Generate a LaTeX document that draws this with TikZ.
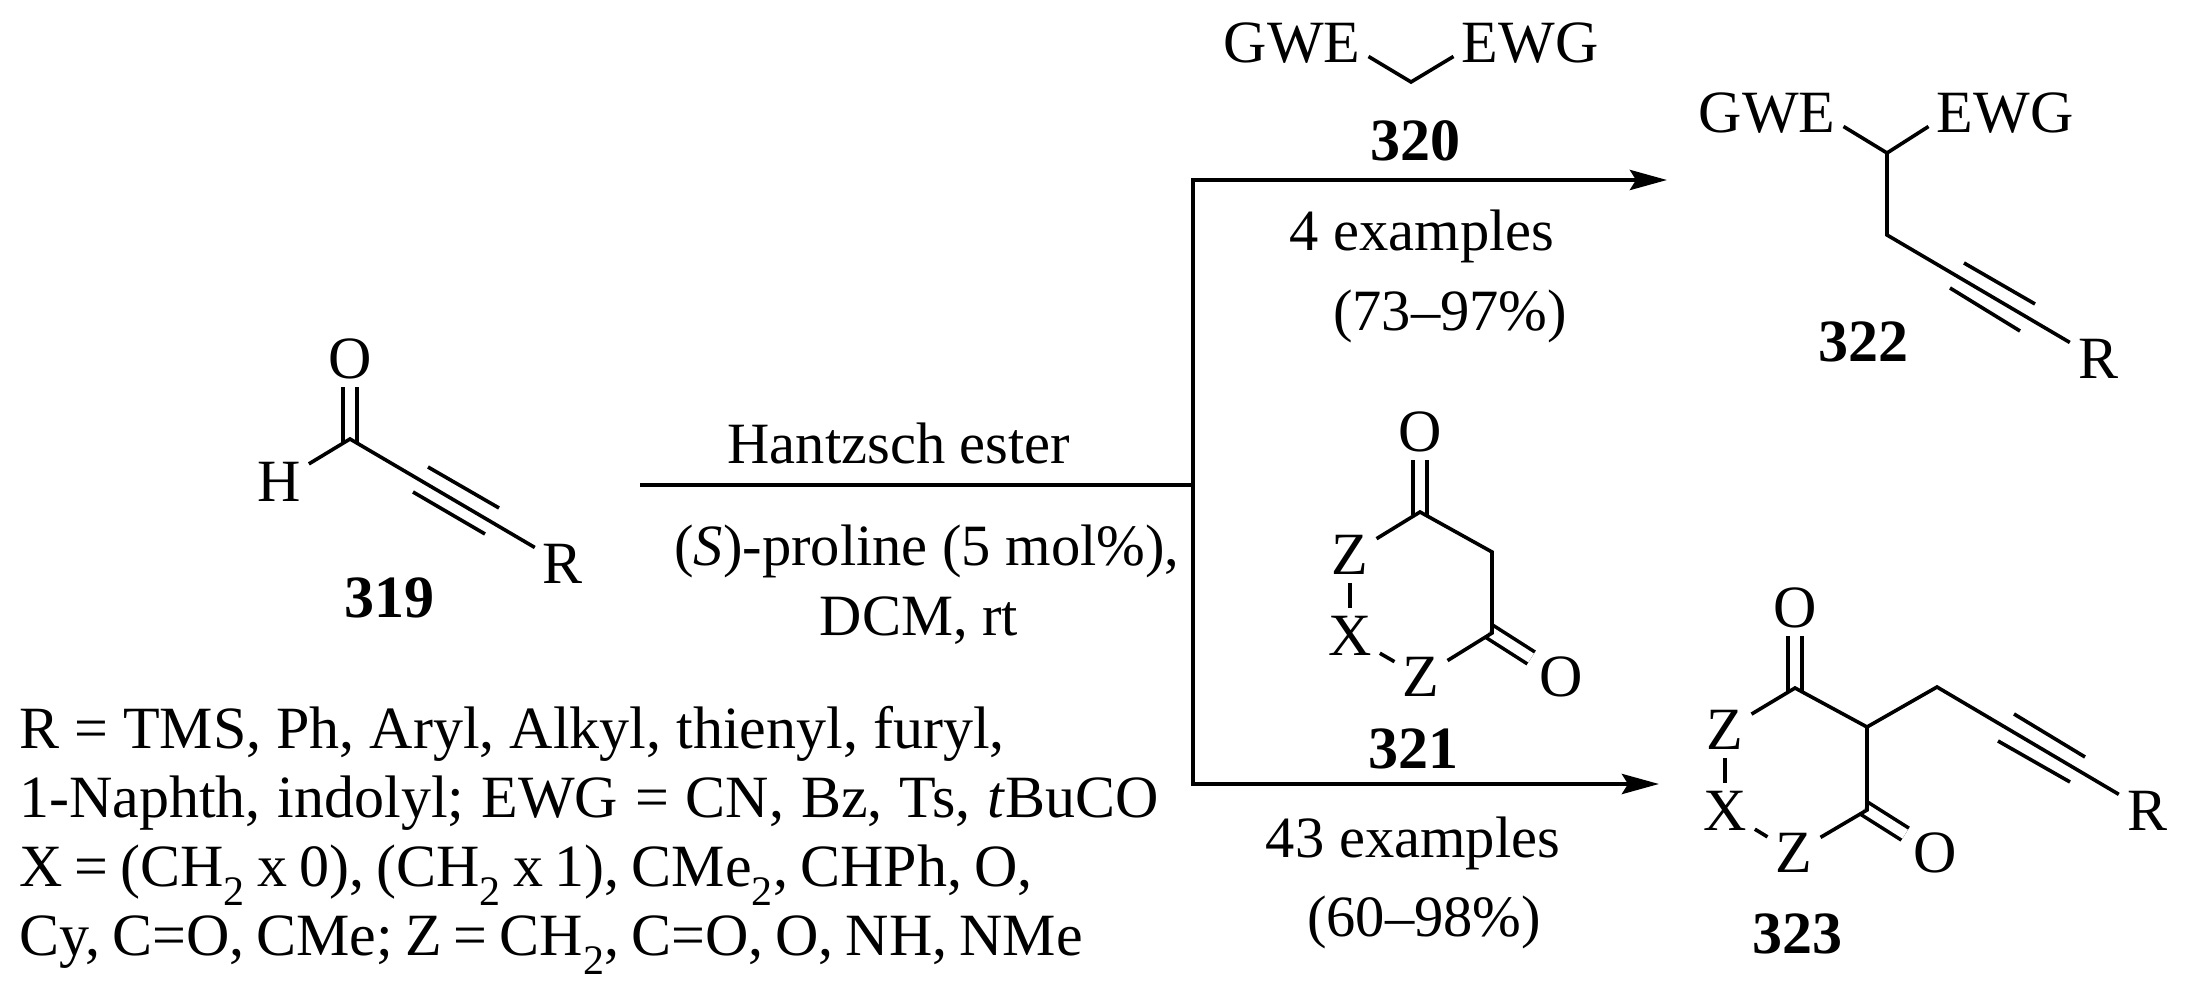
\documentclass[tikz,border=0pt]{standalone}
\usepackage{fontspec}
\setmainfont{Liberation Serif}
\usetikzlibrary{positioning,arrows.meta}
\newcommand{\chemsize}{\fontsize{60}{69}\selectfont}
\newcommand{\condsize}{\fontsize{58.5}{69}\selectfont}
\tikzset{
    atom/.style={inner sep=8pt, anchor=center, font=\chemsize},
    cmpd/.style={inner sep=0pt, anchor=base, font=\chemsize\bfseries},
    cond/.style={inner sep=0pt, anchor=base, font=\condsize},
    legend/.style={inner sep=0pt, anchor=base west, font=\chemsize},
    spacing/.style={execute at begin node={\spaceskip=#1\relax}},
    bond/.style={line width=3.6pt, line join=miter},
    dbond/.style={bond, double, double distance between line centers=14pt, shorten <=-3pt},
    connection/.style={line width=4.4pt, -{Stealth[length=37pt,width=20pt,inset=6pt]}}
}

\begin{document}
\begin{tikzpicture}[x=1pt, y=-1pt]
\useasboundingbox (0,0) rectangle (2188,992);

% Aldehyde 319
\coordinate (ald) at (350,439);
\node (aldO) [above=80pt of ald, atom] {O};
\node (aldH) [below left=43pt and 71pt of ald, atom] {H};
\node (aldR) [below right=125pt and 213pt of ald, atom] {R};
\coordinate (aldUa) at (428,467);
\coordinate (aldUb) at (499,508);
\coordinate (aldLa) at (413,492);
\coordinate (aldLb) at (485,534);
\node (n319) [cmpd] at (389,617) {319};
\draw [dbond] (ald) -- (aldO);
\draw [bond] (aldH) -- (ald) -- (aldR);
\draw [bond] (aldUa) -- (aldUb);
\draw [bond] (aldLa) -- (aldLb);

% Conditions on the main line
\node (hantzsch) [cond] at (899,463) {Hantzsch ester};
\node (proline) [below right=102pt and 28pt of hantzsch.base, cond] {(\textit{S})-proline (5 mol\%),};
\node (dcm) [below right=172pt and 20pt of hantzsch.base, cond] {DCM, rt};

% Substituent lists
\node (rlist) [legend] at (19,748) {R = TMS, Ph, Aryl, Alkyl, thienyl, furyl,};
\node (ewglist) [below=69pt of rlist.base west, legend, spacing=17pt] {1-Naphth, indolyl; EWG = CN, Bz, Ts, \textit{t}BuCO};
\node (xlist) [below=69pt of ewglist.base west, legend, spacing=12pt] {X = (CH\textsubscript{2} x 0), (CH\textsubscript{2} x 1), CMe\textsubscript{2}, CHPh, O,};
\node (zlist) [below=69pt of xlist.base west, legend, spacing=12pt] {Cy, C=O, CMe; Z = CH\textsubscript{2}, C=O, O, NH, NMe};

% Reagent 320
\node (gweA) [atom] at (1292,43) {GWE};
\node (ewgA) [atom] at (1530,43) {EWG};
\coordinate (mal) at (1411,82);
\node (n320) [cmpd] at (1415,161) {320};
\draw [bond] (gweA.-10) -- (mal) -- (ewgA.190);

% Product 322
\node (gweB) [atom] at (1767,113) {GWE};
\node (ewgB) [atom] at (2005,113) {EWG};
\coordinate (chB) at (1887,153);
\coordinate (chtwoB) at (1887,235);
\node (prodR) [below right=124pt and 211pt of chtwoB, atom] {R};
\coordinate (prodUa) at (1964,263);
\coordinate (prodUb) at (2035,304);
\coordinate (prodLa) at (1950,288);
\coordinate (prodLb) at (2020,331);
\node (n322) [cmpd] at (1863,362) {322};
\draw [bond] (gweB.-10) -- (chB) -- (ewgB.190);
\draw [bond] (chB) -- (chtwoB) -- (prodR);
\draw [bond] (prodUa) -- (prodUb);
\draw [bond] (prodLa) -- (prodLb);

% Reagent 321
\coordinate (dioA) at (1420,512);
\coordinate (chtwoC) at (1492,552);
\coordinate (dioB) at (1492,633);
\node (dioOa) [above=80pt of dioA, atom] {O};
\node (dioZa) [atom] at (1350,555) {Z};
\node (dioX) [atom] at (1350,636) {X};
\node (dioZb) [atom] at (1421,677) {Z};
\node (dioOb) [atom] at (1561,677) {O};
\node (n321) [cmpd] at (1413,768) {321};
\draw [dbond] (dioA) -- (dioOa);
\draw [dbond] (dioB) -- (dioOb);
\draw [bond] (dioZa) -- (dioA) -- (chtwoC) -- (dioB) -- (dioZb);
\draw [bond] (dioZa) -- (dioX);
\draw [bond] (dioX) -- (dioZb);

% Product 323
\coordinate (cycA) at (1795,688);
\coordinate (cycC) at (1867,727);
\coordinate (cycB) at (1867,810);
\coordinate (chtwoD) at (1937,687);
\node (cycOa) [above=80pt of cycA, atom] {O};
\node (cycZa) [atom] at (1725,730) {Z};
\node (cycX) [atom] at (1725,811) {X};
\node (cycZb) [atom] at (1794,853) {Z};
\node (cycOb) [atom] at (1935,853) {O};
\node (cycR) [below right=124pt and 210pt of chtwoD, atom] {R};
\coordinate (cycUa) at (2014,714);
\coordinate (cycUb) at (2085,757);
\coordinate (cycLa) at (1998,741);
\coordinate (cycLb) at (2070,782);
\node (n323) [cmpd] at (1797,953) {323};
\draw [dbond] (cycA) -- (cycOa);
\draw [dbond] (cycB) -- (cycOb);
\draw [bond] (cycZa) -- (cycA) -- (cycC) -- (cycB) -- (cycZb);
\draw [bond] (cycC) -- (chtwoD) -- (cycR);
\draw [bond] (cycZa) -- (cycX);
\draw [bond] (cycX) -- (cycZb);
\draw [bond] (cycUa) -- (cycUb);
\draw [bond] (cycLa) -- (cycLb);

% Yields under the arrows
\node (exa) [cond] at (1422,251) {4 examples};
\node (yielda) [cond] at (1450,331) {(73--97\%)};
\node (exb) [cond] at (1413,857) {43 examples};
\node (yieldb) [cond] at (1424,936) {(60--98\%)};

% Connections
\coordinate (start) at (640,485);
\coordinate (branch) at (1193,485);
\coordinate (tiptop) at (1667,180);
\coordinate (tipbot) at (1659,784);
\draw [line width=4.4pt] (start) -- (branch);
\draw [connection] (branch) |- (tiptop);
\draw [connection] (branch) |- (tipbot);

\end{tikzpicture}
\end{document}
